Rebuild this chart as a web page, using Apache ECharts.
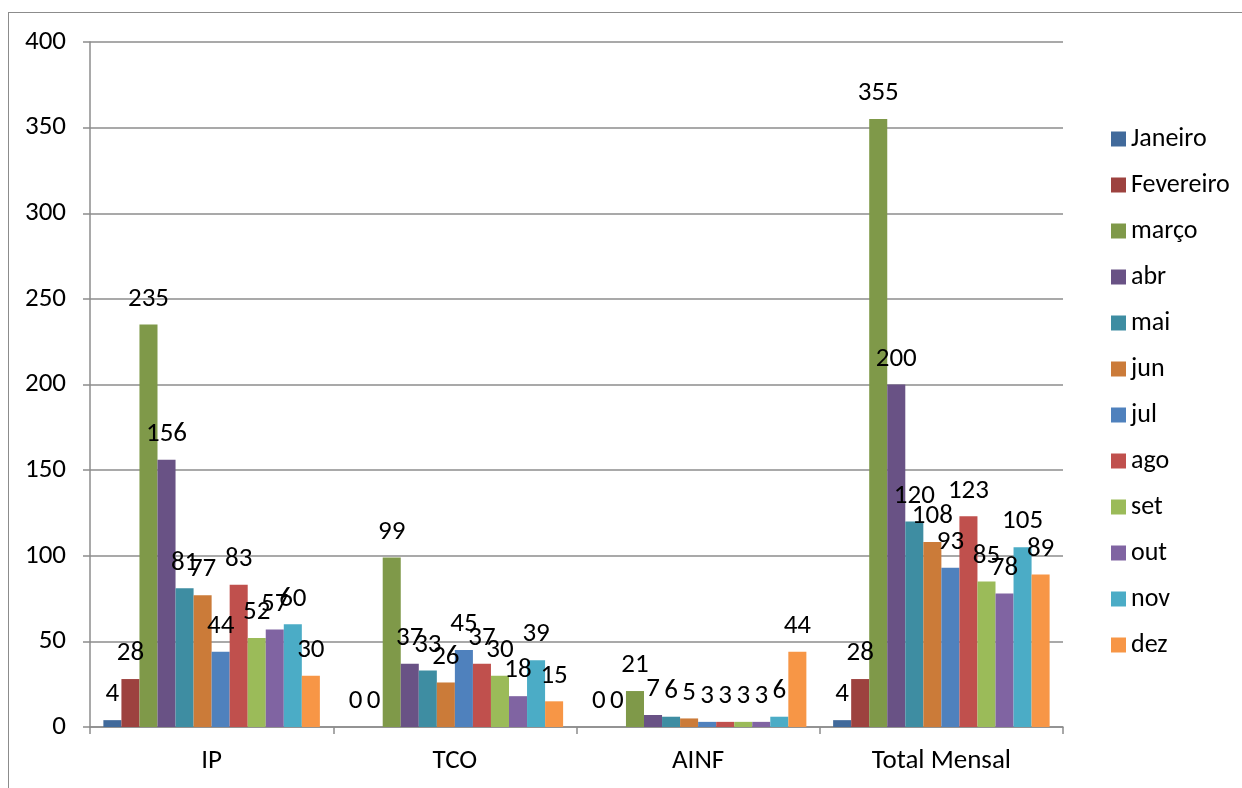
<!DOCTYPE html>
<html>
<head>
<meta charset="utf-8">
<script src="https://cdn.jsdelivr.net/npm/echarts@6/dist/echarts.min.js"></script>
<style>
html,body{margin:0;padding:0;background:#fff;}
#frame{position:absolute;left:8px;top:12px;width:1300px;height:900px;border-left:1.5px solid #8c8c8c;border-top:1.5px solid #8c8c8c;}
#chart{position:absolute;left:0;top:0;width:1242px;height:788px;}
</style>
</head>
<body>
<div id="frame"></div>
<div id="chart"></div>
<script>
const categories = ['IP', 'TCO', 'AINF', 'Total Mensal'];
const seriesNames = ['Janeiro', 'Fevereiro', 'março', 'abr', 'mai', 'jun', 'jul', 'ago', 'set', 'out', 'nov', 'dez'];
const janeiro   = [4, 0, 0, 4];
const fevereiro = [28, 0, 0, 28];
const marco     = [235, 99, 21, 355];
const abr       = [156, 37, 7, 200];
const mai       = [81, 33, 6, 120];
const jun       = [77, 26, 5, 108];
const jul       = [44, 45, 3, 93];
const ago       = [83, 37, 3, 123];
const set_      = [52, 30, 3, 85];
const out       = [57, 18, 3, 78];
const nov       = [60, 39, 6, 105];
const dez       = [30, 15, 44, 89];
const seriesValues = [janeiro, fevereiro, marco, abr, mai, jun, jul, ago, set_, out, nov, dez];
const colors = ['#416A9B', '#9D423F', '#7F9949', '#695285', '#3E8DA2', '#CB7B39',
                '#4F81BD', '#C0504D', '#9BBB59', '#8064A2', '#4BACC6', '#F79646'];

const FONT = 'Carlito, Lato, sans-serif';
const chart = echarts.init(document.getElementById('chart'));
chart.setOption({
  backgroundColor: 'transparent',
  animation: false,
  color: colors,
  textStyle: { fontFamily: FONT },
  grid: { left: 90, top: 42, right: 179, bottom: 61, containLabel: false },
  legend: {
    orient: 'vertical',
    left: 1106,
    top: 121,
    itemWidth: 15,
    itemHeight: 15,
    itemGap: 20,
    icon: 'rect',
    textStyle: { fontFamily: FONT, fontSize: 26, color: '#000', lineHeight: 26 },
    data: seriesNames
  },
  xAxis: {
    type: 'category',
    data: categories,
    boundaryGap: true,
    axisLine: { lineStyle: { color: '#8c8c8c', width: 1.5 } },
    axisTick: { show: true, length: 7, lineStyle: { color: '#8c8c8c', width: 1.5 } },
    axisLabel: { color: '#000', fontSize: 27, fontFamily: FONT, margin: 21 }
  },
  yAxis: {
    type: 'value',
    min: 0, max: 400, interval: 50,
    axisLine: { show: true, lineStyle: { color: '#8c8c8c', width: 1.5 } },
    axisTick: { show: true, length: 7, lineStyle: { color: '#8c8c8c', width: 1.5 } },
    splitLine: { lineStyle: { color: '#8c8c8c', width: 1.5 } },
    axisLabel: { color: '#000', fontSize: 27, fontFamily: FONT, margin: 24 }
  },
  series: seriesNames.map((name, i) => ({
    name: name,
    type: 'bar',
    data: seriesValues[i],
    barGap: '0%',
    barCategoryGap: '11%',
    itemStyle: { color: colors[i] },
    label: { show: true, position: 'top', distance: 12, color: '#000', fontSize: 27, fontFamily: FONT }
  }))
});
</script>
</body>
</html>
